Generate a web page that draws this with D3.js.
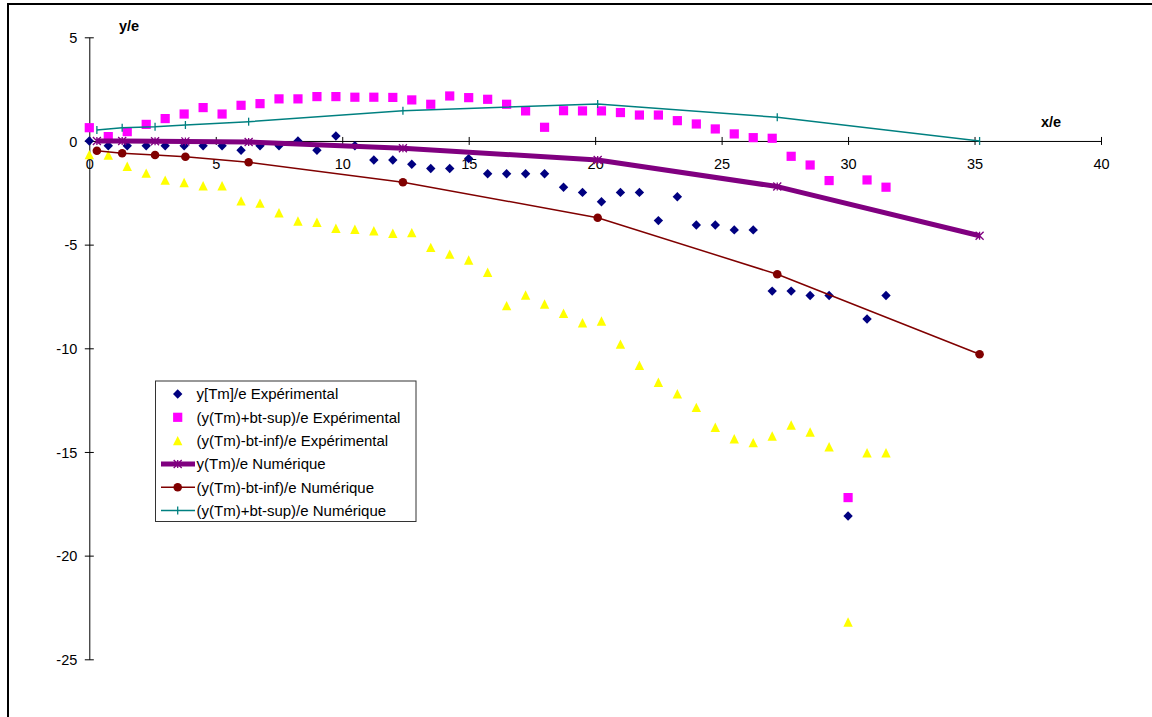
<!DOCTYPE html>
<html><head><meta charset="utf-8">
<script src="https://cdn.jsdelivr.net/npm/d3@7"></script>
<style>
html,body{margin:0;padding:0;background:#fff;}
svg{display:block;font-family:"Liberation Sans",Arial,sans-serif;}
</style></head>
<body>
<svg id="chart" width="1152" height="717"></svg>
<script>
// ---- data ----
const xExp = [0,0.75,1.5,2.25,3,3.75,4.5,5.25,6,6.75,7.5,8.25,9,9.75,10.5,11.25,12,12.75,13.5,14.25,15,15.75,16.5,17.25,18,18.75,19.5,20.25,21,21.75,22.5,23.25,24,24.75,25.5,26.25,27,27.75,28.5,29.25,30,30.75,31.5];
const yTmExp = [0,-0.23,-0.23,-0.23,-0.23,-0.23,-0.23,-0.23,-0.45,-0.23,-0.23,0,-0.45,0.24,-0.23,-0.92,-0.92,-1.12,-1.33,-1.33,-0.85,-1.58,-1.58,-1.58,-1.58,-2.23,-2.48,-2.93,-2.48,-2.48,-3.84,-2.69,-4.05,-4.05,-4.29,-4.29,-7.24,-7.24,-7.45,-7.45,-18.09,-8.59,-7.45];
const supExp = [0.64,0.21,0.45,0.8,1.08,1.3,1.61,1.3,1.72,1.8,2.03,2.03,2.14,2.14,2.11,2.11,2.1,1.98,1.77,2.17,2.09,2.01,1.77,1.45,0.66,1.46,1.45,1.45,1.37,1.25,1.25,0.98,0.82,0.58,0.34,0.16,0.13,-0.74,-1.16,-1.91,-17.2,-1.88,-2.23];
const infExp = [-0.66,-0.68,-1.22,-1.55,-1.89,-2.0,-2.16,-2.16,-2.89,-3.0,-3.46,-3.86,-3.92,-4.21,-4.26,-4.33,-4.45,-4.42,-5.13,-5.46,-5.74,-6.33,-7.94,-7.43,-7.86,-8.31,-8.77,-8.68,-9.8,-10.82,-11.64,-12.19,-12.85,-13.81,-14.36,-14.55,-14.23,-13.7,-14.04,-14.75,-23.2,-15.04,-15.04];
const xNum = [0.3,1.3,2.6,3.8,6.3,12.4,20.1,27.2,35.2];
const yTmNum = [0,0,-0.01,-0.02,-0.05,-0.35,-0.92,-2.2,-4.57];
const infNum = [-0.47,-0.59,-0.68,-0.76,-1.03,-1.99,-3.7,-6.43,-10.29];
const supNum = [0.53,0.64,0.69,0.77,0.93,1.46,1.78,1.14,0.0];
const xTicks = [0,5,10,15,20,25,30,35,40];
const yTicks = [-25,-20,-15,-10,-5,0,5];
const legendLabels = ["y[Tm]/e Expérimental","(y(Tm)+bt-sup)/e Expérimental","(y(Tm)-bt-inf)/e Expérimental","y(Tm)/e Numérique","(y(Tm)-bt-inf)/e Numérique","(y(Tm)+bt-sup)/e Numérique"];

// ---- drawing ----
const svg = d3.select("#chart");
const FS = 14.5;
const LFS = 15;
// outer frame
svg.append("rect").attr("x",8).attr("y",4).attr("width",1160).attr("height",730)
  .attr("fill","#fff").attr("stroke","#000").attr("stroke-width",2);

const x = d3.scaleLinear().domain([0,40]).range([89.3,1101]);
const y = d3.scaleLinear().domain([-25,5]).range([659.3,37.3]);
const fmt = d => String(d);

// axes
const xAxis = d3.axisBottom(x).tickValues(xTicks).tickFormat(fmt).tickSize(0).tickPadding(0);
const gx = svg.append("g").attr("transform",`translate(0,${y(0)})`).call(xAxis);
gx.select(".domain").attr("stroke","#000").attr("stroke-width",1);
gx.selectAll(".tick").append("line").attr("y1",-4).attr("y2",4).attr("stroke","#000");
gx.selectAll(".tick text").attr("y",28).attr("dy",null).attr("font-size",FS).attr("fill","#000")
  .attr("font-family","Liberation Sans, Arial, sans-serif");

const yAxis = d3.axisLeft(y).tickValues(yTicks).tickFormat(fmt).tickSize(0).tickPadding(0);
const gy = svg.append("g").attr("transform",`translate(${x(0)},0)`).call(yAxis);
gy.select(".domain").attr("stroke","#000").attr("stroke-width",1);
gy.selectAll(".tick").append("line").attr("x1",-4.5).attr("x2",4.5).attr("stroke","#000");
gy.selectAll(".tick text").attr("x",-12).attr("dy","0.35em").attr("font-size",FS).attr("fill","#000")
  .attr("font-family","Liberation Sans, Arial, sans-serif");

svg.append("text").attr("x",119).attr("y",31).attr("font-size",FS).attr("font-weight","bold").text("y/e");
svg.append("text").attr("x",1041).attr("y",127).attr("font-size",FS).attr("font-weight","bold").text("x/e");

// marker paths
const diamond = s => `M0,${-s}L${s},0L0,${s}L${-s},0Z`;
const square = s => `M${-s},${-s}H${s}V${s}H${-s}Z`;
const triangle = s => `M0,${-s}L${s},${s}L${-s},${s}Z`;
const star = s => `M${-s},${-s}L${s},${s}M${-s},${s}L${s},${-s}M0,${-s}V${s}`;

function scatter(xs, ys, path, fill){
  const pts = xs.map((d,i)=>[d,ys[i]]);
  svg.append("g").selectAll("path").data(pts).join("path")
    .attr("transform",d=>`translate(${x(d[0])},${y(d[1])})`)
    .attr("d",path).attr("fill",fill);
}
scatter(xExp, yTmExp, diamond(4.7), "#000080");
scatter(xExp, supExp, square(4.6), "#FF00FF");
scatter(xExp, infExp, triangle(4.7), "#FFFF00");

function lineSeries(xs, ys, color, w, marker){
  const pts = xs.map((d,i)=>[d,ys[i]]);
  svg.append("path").datum(pts).attr("fill","none").attr("stroke",color).attr("stroke-width",w)
    .attr("stroke-linejoin","round")
    .attr("d",d3.line().x(d=>x(d[0])).y(d=>y(d[1])));
  const g = svg.append("g");
  g.selectAll("g").data(pts).join("g")
    .attr("transform",d=>`translate(${x(d[0])},${y(d[1])})`)
    .each(function(){ marker(d3.select(this), color); });
}
const starMarker = (sel,c)=>sel.append("path").attr("d",star(4)).attr("stroke",c).attr("stroke-width",1.3).attr("fill","none");
const circleMarker = (sel,c)=>sel.append("circle").attr("r",4.3).attr("fill",c);
const plusMarker = (sel,c)=>sel.append("path").attr("d","M0,-4V4").attr("stroke",c).attr("stroke-width",1.3);

lineSeries(xNum, yTmNum, "#800080", 5, starMarker);
lineSeries(xNum, infNum, "#800000", 1.5, circleMarker);
lineSeries(xNum, supNum, "#008080", 1.5, plusMarker);

// legend
const lg = svg.append("g");
lg.append("rect").attr("x",155.5).attr("y",381).attr("width",260.5).attr("height",140.5)
  .attr("fill","#fff").attr("stroke","#333").attr("stroke-width",1);
const rowY = [394,417.3,440.6,464,487.3,510.6];
const mx = 177.7;
legendLabels.forEach((lab,i)=>{
  const yy = rowY[i];
  if(i===0) lg.append("path").attr("transform",`translate(${mx},${yy})`).attr("d",diamond(4.7)).attr("fill","#000080");
  if(i===1) lg.append("path").attr("transform",`translate(${mx},${yy})`).attr("d",square(4.6)).attr("fill","#FF00FF");
  if(i===2) lg.append("path").attr("transform",`translate(${mx},${yy})`).attr("d",triangle(4.7)).attr("fill","#FFFF00");
  if(i>=3){
    const c = ["#800080","#800000","#008080"][i-3];
    const w = [5,1.5,1.5][i-3];
    lg.append("line").attr("x1",161).attr("x2",195).attr("y1",yy).attr("y2",yy).attr("stroke",c).attr("stroke-width",w);
    const mg = lg.append("g").attr("transform",`translate(${mx},${yy})`);
    [starMarker,circleMarker,plusMarker][i-3](mg,c);
  }
  lg.append("text").attr("x",196.5).attr("y",yy).attr("dy","0.36em").attr("font-size",LFS).attr("fill","#000").text(lab);
});
</script>
</body></html>
